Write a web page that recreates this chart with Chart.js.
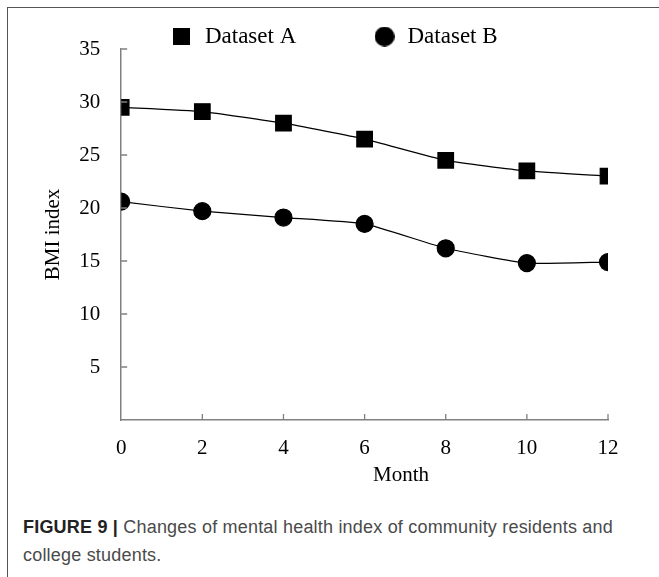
<!DOCTYPE html>
<html>
<head>
<meta charset="utf-8">
<script src="https://cdn.jsdelivr.net/npm/chart.js@4"></script>
<style>
  html, body { margin: 0; padding: 0; background: #fff; }
  #frame {
    position: absolute; left: 7px; top: 7px; width: 660px; height: 580px;
    border-top: 1.5px solid #555; border-left: 1.5px solid #555;
  }
  #wrap { position: absolute; left: -8.5px; top: -8.5px; width: 659px; height: 495px; }
  #caption {
    position: absolute; left: 15px; top: 505px; width: 625px;
    font-family: "Liberation Sans", Arial, sans-serif;
    font-size: 18px; letter-spacing: 0.2px; line-height: 28px; color: #4a4a4a;
  }
  #caption b { color: #222; }
</style>
</head>
<body>
<div id="frame">
  <div id="wrap"><canvas id="chart"></canvas></div>
  <div id="caption"><b>FIGURE 9 |</b> Changes of mental health index of community residents and college students.</div>
</div>
<script>
const months = [0, 2, 4, 6, 8, 10, 12];
const datasetA = [29.5, 29.1, 28.0, 26.5, 24.5, 23.5, 23.0];
const datasetB = [20.6, 19.7, 19.1, 18.5, 16.2, 14.8, 14.9];
const yTicks = [5, 10, 15, 20, 25, 30, 35];
const xTicks = [2, 4, 6, 8, 10, 12];

function marker(shape, size) {
  const c = document.createElement("canvas");
  c.width = size; c.height = size;
  const g = c.getContext("2d");
  g.fillStyle = "#000";
  if (shape === "rect") {
    g.fillRect(0, 0, size, size);
  } else {
    g.beginPath();
    g.arc(size / 2, size / 2, size / 2, 0, Math.PI * 2);
    g.fill();
  }
  return c;
}
const legendSquare = marker("rect", 17);
const legendCircle = marker("circle", 20);

// nudge the legend once the layout is done
const legendShift = {
  id: "legendShift",
  afterLayout(chart) {
    const lg = chart.legend;
    lg.top += 9;
    lg.bottom += 9;
    lg.left += 11;
    lg.right += 11;
  },
};

// inward tick marks + x axis title
const axisExtras = {
  id: "axisExtras",
  afterDraw(chart) {
    const ctx = chart.ctx;
    const x = chart.scales.x, y = chart.scales.y;
    const a = chart.chartArea;
    ctx.save();
    ctx.strokeStyle = "#808080";
    ctx.lineWidth = 1.3;
    ctx.beginPath();
    yTicks.forEach((v) => {
      const py = y.getPixelForValue(v);
      ctx.moveTo(a.left, py);
      ctx.lineTo(a.left + 6, py);
    });
    xTicks.forEach((v) => {
      const px = x.getPixelForValue(v);
      ctx.moveTo(px, a.bottom);
      ctx.lineTo(px, a.bottom - 6);
    });
    ctx.stroke();
    ctx.fillStyle = "#000";
    ctx.font = "21px 'Liberation Serif'";
    ctx.textAlign = "center";
    ctx.textBaseline = "middle";
    ctx.fillText("Month", a.left + (a.right - a.left) * 0.575, a.bottom + 55);
    ctx.restore();
  },
};

new Chart(document.getElementById("chart"), {
  type: "line",
  data: {
    datasets: [
      {
        label: "Dataset A",
        data: months.map((m, i) => ({ x: m, y: datasetA[i] })),
        borderColor: "#000",
        backgroundColor: "#000",
        borderWidth: 1.2,
        pointStyle: "rect",
        pointRadius: 11,
        tension: 0.15,
      },
      {
        label: "Dataset B",
        data: months.map((m, i) => ({ x: m, y: datasetB[i] })),
        borderColor: "#000",
        backgroundColor: "#000",
        borderWidth: 1.2,
        pointStyle: "circle",
        pointRadius: 8.5,
        tension: 0.15,
      },
    ],
  },
  options: {
    responsive: true,
    maintainAspectRatio: false,
    animation: false,
    layout: { padding: { top: 14, left: 38, right: 51, bottom: 0 } },
    plugins: {
      tooltip: { enabled: false },
      legend: {
        position: "top",
        labels: {
          usePointStyle: true,
          padding: 2,
          color: "#000",
          font: { family: "Liberation Serif", size: 23 },
          generateLabels(chart) {
            return chart.data.datasets.map((ds, i) => ({
              text: i === 0 ? ds.label + "             " : ds.label,
              pointStyle: i === 0 ? legendSquare : legendCircle,
              fillStyle: "#000",
              strokeStyle: "#000",
              lineWidth: 0,
              datasetIndex: i,
            }));
          },
        },
      },
    },
    scales: {
      x: {
        type: "linear",
        min: 0,
        max: 12,
        border: { color: "#808080", width: 1.5 },
        grid: { display: false },
        ticks: {
          stepSize: 2,
          padding: 8,
          color: "#000",
          font: { family: "Liberation Serif", size: 21 },
        },
        afterFit(scale) { scale.height = 75; },
      },
      y: {
        min: 0,
        max: 35,
        border: { color: "#808080", width: 1.5 },
        grid: { display: false },
        title: {
          display: true,
          text: "BMI index",
          color: "#000",
          font: { family: "Liberation Serif", size: 21 },
          padding: { top: 3, bottom: 0 },
        },
        ticks: {
          stepSize: 5,
          padding: 13,
          color: "#000",
          font: { family: "Liberation Serif", size: 21 },
          callback: (v) => (v === 0 ? "" : v),
        },
      },
    },
  },
  plugins: [axisExtras, legendShift],
});
</script>
</body>
</html>
